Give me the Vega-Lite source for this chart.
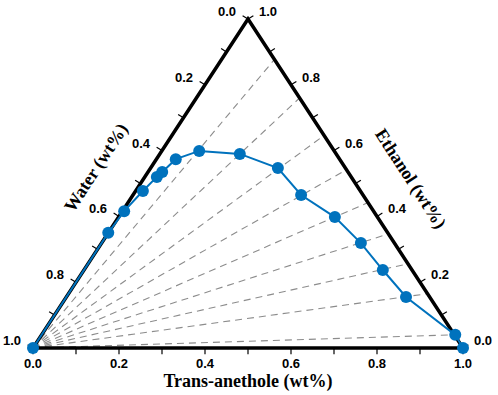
{
  "$schema": "https://vega.github.io/schema/vega-lite/v6.json",
  "width": 430,
  "height": 329,
  "autosize": "none",
  "padding": {"left": 33, "top": 19, "right": 35, "bottom": 47},
  "background": "white",
  "config": {"view": {"stroke": null}},
  "datasets": {
    "curve": [
      {"i": 1, "anethole": 0.0, "ethanol": 0.0, "water": 1.0},
      {"i": 2, "anethole": 0.0, "ethanol": 0.350, "water": 0.650},
      {"i": 3, "anethole": 0.004, "ethanol": 0.416, "water": 0.580},
      {"i": 4, "anethole": 0.017, "ethanol": 0.477, "water": 0.506},
      {"i": 5, "anethole": 0.028, "ethanol": 0.520, "water": 0.452},
      {"i": 6, "anethole": 0.033, "ethanol": 0.535, "water": 0.432},
      {"i": 7, "anethole": 0.045, "ethanol": 0.574, "water": 0.381},
      {"i": 8, "anethole": 0.087, "ethanol": 0.599, "water": 0.314},
      {"i": 9, "anethole": 0.186, "ethanol": 0.590, "water": 0.224},
      {"i": 10, "anethole": 0.296, "ethanol": 0.547, "water": 0.157},
      {"i": 11, "anethole": 0.391, "ethanol": 0.465, "water": 0.144},
      {"i": 12, "anethole": 0.503, "ethanol": 0.398, "water": 0.099},
      {"i": 13, "anethole": 0.603, "ethanol": 0.319, "water": 0.078},
      {"i": 14, "anethole": 0.695, "ethanol": 0.237, "water": 0.068},
      {"i": 15, "anethole": 0.790, "ethanol": 0.155, "water": 0.055},
      {"i": 16, "anethole": 0.962, "ethanol": 0.040, "water": -0.002},
      {"i": 17, "anethole": 1.0, "ethanol": 0.0, "water": 0.0}
    ],
    "ties": [
      {"ethanol": 0.877, "anethole": 0.123},
      {"ethanol": 0.760, "anethole": 0.240},
      {"ethanol": 0.646, "anethole": 0.354},
      {"ethanol": 0.542, "anethole": 0.458},
      {"ethanol": 0.442, "anethole": 0.558},
      {"ethanol": 0.347, "anethole": 0.653},
      {"ethanol": 0.256, "anethole": 0.744},
      {"ethanol": 0.165, "anethole": 0.835},
      {"ethanol": 0.040, "anethole": 0.960}
    ],
    "frame": [
      {"k": 0, "anethole": 0, "ethanol": 0},
      {"k": 1, "anethole": 1, "ethanol": 0},
      {"k": 2, "anethole": 0, "ethanol": 1},
      {"k": 3, "anethole": 0, "ethanol": 0}
    ],
    "ticks": [
      {"v": 0.0}, {"v": 0.1}, {"v": 0.2}, {"v": 0.3}, {"v": 0.4}, {"v": 0.5},
      {"v": 0.6}, {"v": 0.7}, {"v": 0.8}, {"v": 0.9}, {"v": 1.0}
    ],
    "labels": [
      {"v": 0.0}, {"v": 0.2}, {"v": 0.4}, {"v": 0.6}, {"v": 0.8}, {"v": 1.0}
    ],
    "titles": [
      {"axis": "water", "t": "Water (wt%)", "anethole": 0.0, "ethanol": 0.5},
      {"axis": "ethanol", "t": "Ethanol (wt%)", "anethole": 0.5, "ethanol": 0.5},
      {"axis": "anethole", "t": "Trans-anethole (wt%)", "anethole": 0.5, "ethanol": 0.0}
    ]
  },
  "layer": [
    {
      "data": {"name": "ties"},
      "transform": [
        {"calculate": "0", "as": "px0"},
        {"calculate": "0", "as": "py0"},
        {"calculate": "datum.anethole + datum.ethanol / 2", "as": "px"},
        {"calculate": "datum.ethanol", "as": "py"}
      ],
      "mark": {"type": "rule", "color": "#8c8c8c", "strokeWidth": 1.1, "strokeDash": [7, 5]},
      "encoding": {
        "x": {"field": "px0", "type": "quantitative", "scale": {"domain": [0, 1], "nice": false, "zero": false}, "axis": null},
        "y": {"field": "py0", "type": "quantitative", "scale": {"domain": [0, 1], "nice": false, "zero": false}, "axis": null},
        "x2": {"field": "px"},
        "y2": {"field": "py"}
      }
    },
    {
      "data": {"name": "frame"},
      "transform": [
        {"calculate": "datum.anethole + datum.ethanol / 2", "as": "px"},
        {"calculate": "datum.ethanol", "as": "py"}
      ],
      "mark": {"type": "line", "color": "black", "strokeWidth": 3.5, "strokeJoin": "miter", "strokeCap": "square"},
      "encoding": {
        "x": {"field": "px", "type": "quantitative"},
        "y": {"field": "py", "type": "quantitative"},
        "order": {"field": "k", "type": "quantitative"}
      }
    },
    {
      "data": {"name": "ticks"},
      "transform": [
        {"calculate": "datum.v", "as": "px"},
        {"calculate": "0", "as": "py"},
        {"calculate": "-0.019", "as": "py2"}
      ],
      "mark": {"type": "rule", "color": "black", "strokeWidth": 1.2},
      "encoding": {
        "x": {"field": "px", "type": "quantitative"},
        "y": {"field": "py", "type": "quantitative"},
        "y2": {"field": "py2"}
      }
    },
    {
      "data": {"name": "ticks"},
      "transform": [
        {"calculate": "(1 - datum.v) / 2", "as": "px"},
        {"calculate": "1 - datum.v", "as": "py"},
        {"calculate": "datum.px - 0.0125", "as": "px2"},
        {"calculate": "datum.py + 0.010", "as": "py2"}
      ],
      "mark": {"type": "rule", "color": "black", "strokeWidth": 1.2},
      "encoding": {
        "x": {"field": "px", "type": "quantitative"},
        "y": {"field": "py", "type": "quantitative"},
        "x2": {"field": "px2"},
        "y2": {"field": "py2"}
      }
    },
    {
      "data": {"name": "ticks"},
      "transform": [
        {"calculate": "1 - datum.v / 2", "as": "px"},
        {"calculate": "datum.v", "as": "py"},
        {"calculate": "datum.px + 0.0125", "as": "px2"},
        {"calculate": "datum.py + 0.010", "as": "py2"}
      ],
      "mark": {"type": "rule", "color": "black", "strokeWidth": 1.2},
      "encoding": {
        "x": {"field": "px", "type": "quantitative"},
        "y": {"field": "py", "type": "quantitative"},
        "x2": {"field": "px2"},
        "y2": {"field": "py2"}
      }
    },
    {
      "data": {"name": "labels"},
      "transform": [
        {"calculate": "datum.v", "as": "px"},
        {"calculate": "0", "as": "py"}
      ],
      "mark": {"type": "text", "font": "Liberation Sans", "fontWeight": "bold", "fontSize": 13, "dy": 16, "align": "center", "baseline": "middle", "color": "black"},
      "encoding": {
        "x": {"field": "px", "type": "quantitative"},
        "y": {"field": "py", "type": "quantitative"},
        "text": {"field": "v", "type": "quantitative", "format": ".1f"}
      }
    },
    {
      "data": {"name": "labels"},
      "transform": [
        {"calculate": "(1 - datum.v) / 2", "as": "px"},
        {"calculate": "1 - datum.v", "as": "py"}
      ],
      "mark": {"type": "text", "font": "Liberation Sans", "fontWeight": "bold", "fontSize": 13, "dx": -21, "dy": -7, "align": "center", "baseline": "middle", "color": "black"},
      "encoding": {
        "x": {"field": "px", "type": "quantitative"},
        "y": {"field": "py", "type": "quantitative"},
        "text": {"field": "v", "type": "quantitative", "format": ".1f"}
      }
    },
    {
      "data": {"name": "labels"},
      "transform": [
        {"calculate": "1 - datum.v / 2", "as": "px"},
        {"calculate": "datum.v", "as": "py"}
      ],
      "mark": {"type": "text", "font": "Liberation Sans", "fontWeight": "bold", "fontSize": 13, "dx": 20, "dy": -7, "align": "center", "baseline": "middle", "color": "black"},
      "encoding": {
        "x": {"field": "px", "type": "quantitative"},
        "y": {"field": "py", "type": "quantitative"},
        "text": {"field": "v", "type": "quantitative", "format": ".1f"}
      }
    },
    {
      "data": {"name": "titles"},
      "transform": [
        {"filter": "datum.axis === 'water'"},
        {"calculate": "datum.anethole + datum.ethanol / 2", "as": "px"},
        {"calculate": "datum.ethanol", "as": "py"}
      ],
      "mark": {"type": "text", "font": "Liberation Serif", "fontWeight": "bold", "fontSize": 18, "angle": -57, "dx": -11, "dy": -45, "align": "center", "baseline": "middle", "color": "black"},
      "encoding": {
        "x": {"field": "px", "type": "quantitative"},
        "y": {"field": "py", "type": "quantitative"},
        "text": {"field": "t", "type": "nominal"}
      }
    },
    {
      "data": {"name": "titles"},
      "transform": [
        {"filter": "datum.axis === 'ethanol'"},
        {"calculate": "datum.anethole + datum.ethanol / 2", "as": "px"},
        {"calculate": "datum.ethanol", "as": "py"}
      ],
      "mark": {"type": "text", "font": "Liberation Serif", "fontWeight": "bold", "fontSize": 18, "angle": 57, "dx": 26, "dy": -48, "align": "center", "baseline": "middle", "color": "black"},
      "encoding": {
        "x": {"field": "px", "type": "quantitative"},
        "y": {"field": "py", "type": "quantitative"},
        "text": {"field": "t", "type": "nominal"}
      }
    },
    {
      "data": {"name": "titles"},
      "transform": [
        {"filter": "datum.axis === 'anethole'"},
        {"calculate": "datum.anethole + datum.ethanol / 2", "as": "px"},
        {"calculate": "datum.ethanol", "as": "py"}
      ],
      "mark": {"type": "text", "font": "Liberation Serif", "fontWeight": "bold", "fontSize": 18, "dy": 34, "align": "center", "baseline": "middle", "color": "black"},
      "encoding": {
        "x": {"field": "px", "type": "quantitative"},
        "y": {"field": "py", "type": "quantitative"},
        "text": {"field": "t", "type": "nominal"}
      }
    },
    {
      "data": {"name": "curve"},
      "transform": [
        {"calculate": "datum.anethole + datum.ethanol / 2", "as": "px"},
        {"calculate": "datum.ethanol", "as": "py"}
      ],
      "mark": {"type": "line", "color": "#0072BD", "strokeWidth": 2, "point": {"filled": true, "size": 144, "color": "#0072BD", "opacity": 1}},
      "encoding": {
        "x": {"field": "px", "type": "quantitative"},
        "y": {"field": "py", "type": "quantitative"},
        "order": {"field": "i", "type": "quantitative"}
      }
    }
  ]
}
